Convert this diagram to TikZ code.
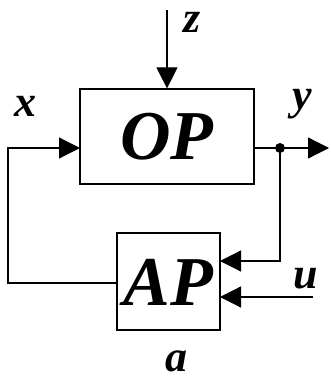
\documentclass[tikz,border=0pt]{standalone}
\usepackage{fontspec}
\setmainfont{Liberation Serif}
\usetikzlibrary{arrows.meta}
\begin{document}
\begin{tikzpicture}[x=1pt,y=-1pt,
  line width=1.2pt,
  tip/.style={-{Triangle[length=21pt,width=21pt]}},
  blockbox/.style={draw,inner sep=0pt,font=\bfseries\itshape\fontsize{70}{70}\selectfont,text depth=0pt,text height=47pt},
  junction/.style={circle,fill,draw=none,inner sep=0pt,minimum size=10pt},
  lbl/.style={font=\bfseries\itshape\fontsize{44}{44}\selectfont,anchor=base,inner sep=0pt,text depth=0pt,text height=20pt}]
\useasboundingbox (0,0) rectangle (330,382);
\node[blockbox,minimum width=174pt,minimum height=95pt] (OP) at (167,136.5) {OP};
\node[blockbox,minimum width=103pt,minimum height=97pt] (AP) at (168.5,281.5) {AP};
\node[junction] (dot) at (280,148) {};
\coordinate (zs) at (167,10);
\coordinate (xin) at (80,148);
\coordinate (yout) at (254,148);
\coordinate (yend) at (329,148);
\coordinate (apin1) at (220,261);
\coordinate (apin2) at (220,297);
\coordinate (us) at (313,297);
\coordinate (apout) at (117,283);
\coordinate (fbl) at (8,283);
\coordinate (fbt) at (8,148);
\draw[tip] (zs) -- (OP.north);
\draw (yout) -- (dot.center);
\draw[tip] (dot.center) -- (yend);
\draw[tip] (dot.center) |- (apin1);
\draw[tip] (us) -- (apin2);
\draw[tip] (apout) -- (fbl) -- (fbt) -- (xin);
\node[lbl] (zl) at (192,33) {z};
\node[lbl] (xl) at (25,117) {x};
\node[lbl] (yl) at (302,110) {y};
\node[lbl] (ul) at (306,288) {u};
\node[lbl] (al) at (176,371) {a};
\end{tikzpicture}
\end{document}
